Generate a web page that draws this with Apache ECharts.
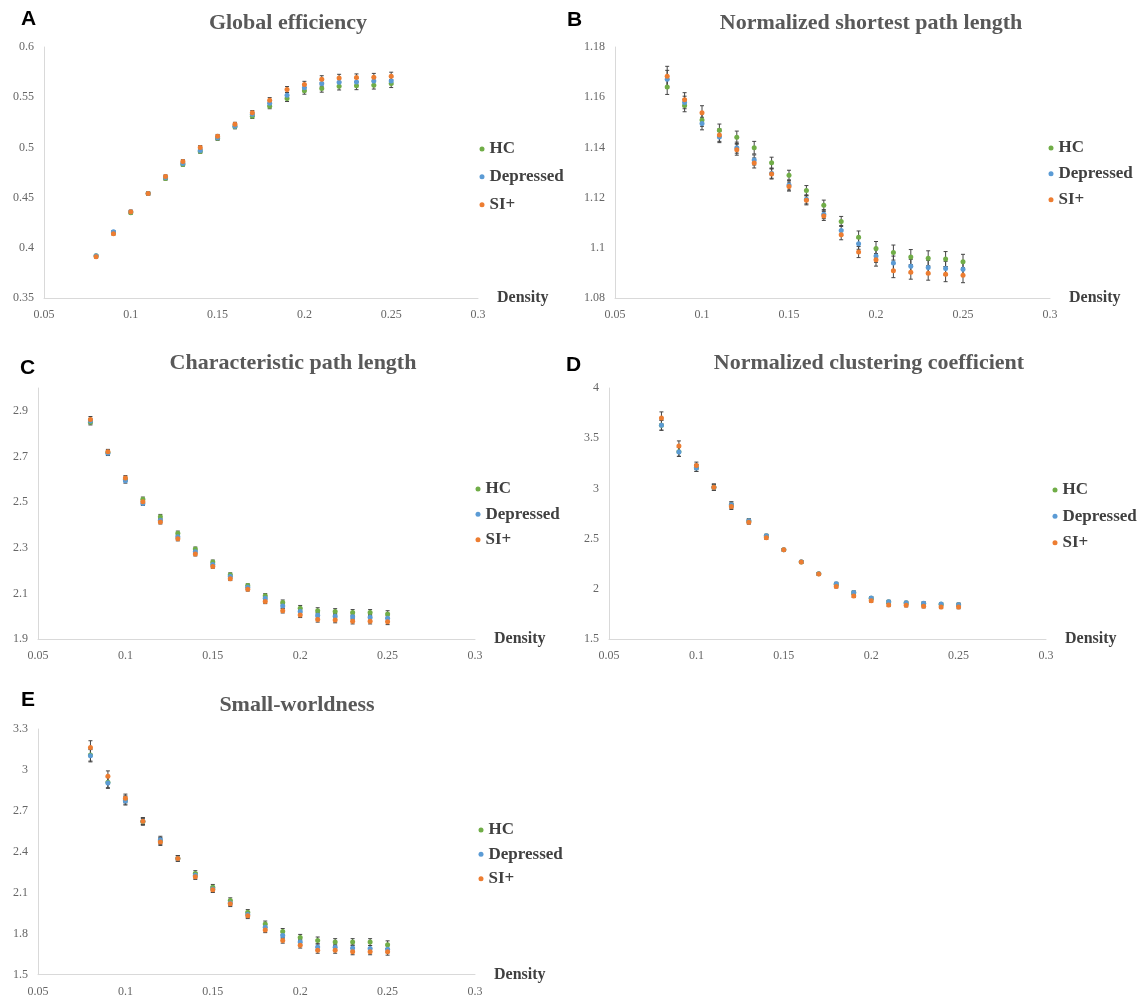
<html>
<head>
    <script src="https://cdn.jsdelivr.net/npm/echarts@6.0.0/dist/echarts.min.js"></script>
    <style>
        body { margin: 0; background: #fff; }
        #chart { width: 1140px; height: 1001px; }
    </style>
</head>
<body>
    <div id="chart"></div>
    <script>
        const density = [0.08, 0.09, 0.10, 0.11, 0.12, 0.13, 0.14, 0.15, 0.16, 0.17, 0.18, 0.19, 0.20, 0.21, 0.22, 0.23, 0.24, 0.25];
        const groups = ['HC', 'Depressed', 'SI+'];
        const colors = ['#70ad47', '#5b9bd5', '#ed7d31'];
        const xTicks = [0.05, 0.3, 0.05];

        // A - global efficiency
        const geHC = [0.392, 0.415, 0.435, 0.454, 0.469, 0.483, 0.496, 0.509, 0.5205, 0.531, 0.541, 0.5487, 0.5563, 0.5586, 0.561, 0.5613, 0.562, 0.5636];
        const geDep = [0.392, 0.416, 0.436, 0.454, 0.470, 0.484, 0.497, 0.5096, 0.521, 0.533, 0.544, 0.552, 0.5593, 0.5636, 0.5649, 0.5652, 0.5662, 0.5662];
        const geSI = [0.391, 0.414, 0.436, 0.454, 0.471, 0.486, 0.500, 0.511, 0.523, 0.5345, 0.547, 0.5576, 0.5626, 0.5679, 0.5692, 0.5695, 0.5699, 0.5709];
        const geErrHC = [0.0012, 0.0013, 0.0014, 0.0015, 0.0016, 0.0017, 0.0018, 0.0019, 0.002, 0.0022, 0.0025, 0.003, 0.0033, 0.0036, 0.0038, 0.0038, 0.0039, 0.004];
        const geErrDep = [0.0011, 0.0012, 0.0013, 0.0014, 0.0015, 0.0016, 0.0017, 0.0018, 0.0019, 0.002, 0.0023, 0.0027, 0.003, 0.0032, 0.0033, 0.0034, 0.0035, 0.0036];
        const geErrSI = [0.0012, 0.0013, 0.0014, 0.0015, 0.0016, 0.0017, 0.0018, 0.0019, 0.002, 0.0022, 0.0026, 0.003, 0.0032, 0.0035, 0.0036, 0.0037, 0.0038, 0.004];

        // B - normalized shortest path length
        const nlHC = [1.1641, 1.1567, 1.1509, 1.1468, 1.144, 1.1399, 1.1339, 1.1289, 1.1228, 1.117, 1.1105, 1.1042, 1.0997, 1.0981, 1.0963, 1.0958, 1.0955, 1.0944];
        const nlDep = [1.1672, 1.1579, 1.1495, 1.1441, 1.1399, 1.135, 1.1297, 1.125, 1.1193, 1.1134, 1.1069, 1.1016, 1.0967, 1.0939, 1.0926, 1.0922, 1.0918, 1.0915];
        const nlSI = [1.1683, 1.159, 1.1538, 1.1449, 1.1391, 1.1338, 1.1294, 1.1244, 1.1189, 1.1127, 1.1052, 1.0983, 1.0952, 1.0909, 1.0903, 1.0899, 1.0895, 1.0891];
        const nlErrHC = [0.003, 0.0025, 0.0025, 0.0025, 0.0025, 0.0025, 0.0022, 0.002, 0.002, 0.002, 0.002, 0.0025, 0.0028, 0.003, 0.003, 0.003, 0.003, 0.003];
        const nlErrDep = [0.0035, 0.0025, 0.0025, 0.0022, 0.0022, 0.002, 0.002, 0.002, 0.0018, 0.0018, 0.002, 0.0022, 0.0025, 0.0028, 0.0028, 0.0028, 0.0028, 0.0028];
        const nlErrSI = [0.004, 0.0028, 0.0028, 0.0025, 0.0022, 0.002, 0.002, 0.0018, 0.0018, 0.0018, 0.002, 0.0022, 0.0025, 0.0028, 0.0028, 0.0028, 0.003, 0.003];

        // C - characteristic path length
        const cpHC = [2.85, 2.717, 2.6, 2.512, 2.436, 2.363, 2.294, 2.237, 2.182, 2.134, 2.09, 2.06, 2.035, 2.024, 2.02, 2.016, 2.016, 2.01];
        const cpDep = [2.855, 2.714, 2.593, 2.494, 2.42, 2.348, 2.282, 2.227, 2.174, 2.127, 2.079, 2.045, 2.02, 2.004, 2.0, 1.997, 1.995, 1.991];
        const cpSI = [2.862, 2.721, 2.606, 2.501, 2.413, 2.339, 2.272, 2.218, 2.164, 2.118, 2.064, 2.024, 2.005, 1.986, 1.983, 1.978, 1.978, 1.976];
        const cpErrHC = [0.012, 0.01, 0.01, 0.01, 0.01, 0.01, 0.009, 0.009, 0.008, 0.008, 0.009, 0.011, 0.012, 0.013, 0.013, 0.013, 0.013, 0.014];
        const cpErrDep = [0.012, 0.01, 0.01, 0.009, 0.009, 0.009, 0.008, 0.008, 0.008, 0.008, 0.009, 0.01, 0.011, 0.012, 0.012, 0.012, 0.012, 0.013];
        const cpErrSI = [0.013, 0.01, 0.01, 0.009, 0.009, 0.009, 0.008, 0.008, 0.008, 0.008, 0.009, 0.01, 0.011, 0.012, 0.012, 0.012, 0.012, 0.013];

        // D - normalized clustering coefficient
        const ncHC = [3.63, 3.365, 3.205, 3.012, 2.835, 2.675, 2.527, 2.389, 2.268, 2.149, 2.045, 1.96, 1.905, 1.868, 1.858, 1.852, 1.845, 1.838];
        const ncDep = [3.629, 3.363, 3.204, 3.012, 2.836, 2.677, 2.528, 2.389, 2.269, 2.15, 2.05, 1.964, 1.908, 1.871, 1.861, 1.855, 1.848, 1.841];
        const ncSI = [3.702, 3.423, 3.227, 3.012, 2.82, 2.664, 2.508, 2.389, 2.266, 2.147, 2.024, 1.928, 1.881, 1.838, 1.835, 1.825, 1.818, 1.818];
        const ncErrHC = [0.05, 0.045, 0.035, 0.03, 0.03, 0.02, 0.015, 0.012, 0.012, 0.012, 0.015, 0.015, 0.015, 0.015, 0.015, 0.015, 0.015, 0.017];
        const ncErrDep = [0.05, 0.045, 0.035, 0.03, 0.03, 0.02, 0.015, 0.012, 0.012, 0.012, 0.015, 0.015, 0.015, 0.015, 0.015, 0.015, 0.015, 0.017];
        const ncErrSI = [0.06, 0.05, 0.035, 0.03, 0.03, 0.02, 0.015, 0.012, 0.012, 0.012, 0.015, 0.015, 0.015, 0.015, 0.015, 0.015, 0.015, 0.017];

        // E - small-worldness
        const swHC = [3.11, 2.91, 2.78, 2.62, 2.48, 2.352, 2.242, 2.141, 2.043, 1.957, 1.871, 1.816, 1.773, 1.751, 1.739, 1.739, 1.739, 1.72];
        const swDep = [3.104, 2.905, 2.773, 2.625, 2.489, 2.352, 2.228, 2.127, 2.026, 1.94, 1.847, 1.787, 1.739, 1.703, 1.701, 1.696, 1.692, 1.687];
        const swSI = [3.164, 2.953, 2.793, 2.625, 2.472, 2.352, 2.218, 2.122, 2.019, 1.931, 1.828, 1.751, 1.715, 1.679, 1.679, 1.668, 1.668, 1.668];
        const swErrHC = [0.045, 0.04, 0.03, 0.025, 0.025, 0.02, 0.02, 0.02, 0.02, 0.02, 0.022, 0.022, 0.022, 0.025, 0.025, 0.025, 0.025, 0.028];
        const swErrDep = [0.045, 0.04, 0.03, 0.025, 0.025, 0.02, 0.02, 0.02, 0.02, 0.02, 0.02, 0.02, 0.02, 0.022, 0.022, 0.022, 0.022, 0.025];
        const swErrSI = [0.05, 0.04, 0.03, 0.025, 0.025, 0.02, 0.02, 0.02, 0.02, 0.02, 0.02, 0.02, 0.02, 0.022, 0.022, 0.022, 0.022, 0.025];

        // legend: [left, top, itemGap]
        const panels = [
            { letter: 'A', title: 'Global efficiency', y: [0.35, 0.6, 0.05], means: [geHC, geDep, geSI], errs: [geErrHC, geErrDep, geErrSI],
              grid: { left: 44, top: 47, width: 434, height: 251 }, titlePos: [288, 23], letterPos: [21, 19], legend: [479.5, 135.5, 1] },
            { letter: 'B', title: 'Normalized shortest path length', y: [1.08, 1.18, 0.02], means: [nlHC, nlDep, nlSI], errs: [nlErrHC, nlErrDep, nlErrSI],
              grid: { left: 615, top: 47, width: 435, height: 251 }, titlePos: [871, 23], letterPos: [567, 20], legend: [1048.5, 134.5, -1] },
            { letter: 'C', title: 'Characteristic path length', y: [1.9, 3.0, 0.2], means: [cpHC, cpDep, cpSI], errs: [cpErrHC, cpErrDep, cpErrSI],
              grid: { left: 38, top: 388, width: 437, height: 251 }, titlePos: [293, 363], letterPos: [20, 368], legend: [475.5, 475.5, -1.5], hideMax: true },
            { letter: 'D', title: 'Normalized clustering coefficient', y: [1.5, 4, 0.5], means: [ncHC, ncDep, ncSI], errs: [ncErrHC, ncErrDep, ncErrSI],
              grid: { left: 609, top: 388, width: 437, height: 251 }, titlePos: [869, 363], letterPos: [566, 365], legend: [1052.5, 476.5, -0.5] },
            { letter: 'E', title: 'Small-worldness', y: [1.5, 3.3, 0.3], means: [swHC, swDep, swSI], errs: [swErrHC, swErrDep, swErrSI],
              grid: { left: 38, top: 729, width: 437, height: 251 }, titlePos: [297, 705], letterPos: [21, 700], legend: [478.5, 816.5, -2.5] }
        ];

        const serif = '"Liberation Serif", "Times New Roman", serif';
        const axisLine = { show: true, lineStyle: { color: '#d9d9d9', width: 1 } };

        function renderErr(params, api) {
            const x = api.value(0), m = api.value(1), e = api.value(2);
            const top = api.coord([x, m + e]);
            const bot = api.coord([x, m - e]);
            const cap = 2;
            const st = { stroke: '#454545', lineWidth: 1 };
            return {
                type: 'group',
                children: [
                    { type: 'line', shape: { x1: top[0], y1: top[1], x2: bot[0], y2: bot[1] }, style: st },
                    { type: 'line', shape: { x1: top[0] - cap, y1: top[1], x2: top[0] + cap, y2: top[1] }, style: st },
                    { type: 'line', shape: { x1: bot[0] - cap, y1: bot[1], x2: bot[0] + cap, y2: bot[1] }, style: st }
                ]
            };
        }

        const grid = [], xAxis = [], yAxis = [], series = [], legend = [], graphic = [];

        panels.forEach((p, i) => {
            grid.push(p.grid);
            xAxis.push({
                type: 'value', gridIndex: i, min: xTicks[0], max: xTicks[1], interval: xTicks[2],
                axisLine: axisLine, axisTick: { show: false }, splitLine: { show: false },
                axisLabel: { color: '#666', fontFamily: serif, fontSize: 12, margin: 8 },
                name: 'Density', nameLocation: 'end', nameGap: 19,
                nameTextStyle: { color: '#404040', fontFamily: serif, fontSize: 16, fontWeight: 'bold', verticalAlign: 'middle' }
            });
            yAxis.push({
                type: 'value', gridIndex: i, min: p.y[0], max: p.y[1], interval: p.y[2],
                axisLine: axisLine, axisTick: { show: false }, splitLine: { show: false },
                axisLabel: { color: '#666', fontFamily: serif, fontSize: 12, margin: 10, showMaxLabel: !p.hideMax }
            });
            groups.forEach((g, k) => {
                series.push({
                    type: 'custom', name: g + ' error', xAxisIndex: i, yAxisIndex: i, z: 2,
                    renderItem: renderErr, encode: { x: 0, y: 1 }, silent: true,
                    data: density.map((d, j) => [d, p.means[k][j], p.errs[k][j]])
                });
            });
            groups.forEach((g, k) => {
                series.push({
                    type: 'scatter', name: g, xAxisIndex: i, yAxisIndex: i, z: 3 + k,
                    symbol: 'circle', symbolSize: 5, itemStyle: { color: colors[k], opacity: 1 },
                    data: density.map((d, j) => [d, p.means[k][j]])
                });
            });
            legend.push({
                data: groups, orient: 'vertical', left: p.legend[0], top: p.legend[1], itemGap: p.legend[2],
                padding: 0, icon: 'circle', itemWidth: 5, itemHeight: 5, selectedMode: false,
                textStyle: { color: '#404040', fontFamily: serif, fontSize: 17, fontWeight: 'bold' }
            });
            graphic.push({
                type: 'text', x: p.titlePos[0], y: p.titlePos[1],
                style: { text: p.title, fill: '#595959', font: 'bold 22px ' + serif, textAlign: 'center', textVerticalAlign: 'middle' }
            });
            graphic.push({
                type: 'text', x: p.letterPos[0], y: p.letterPos[1],
                style: { text: p.letter, fill: '#000', font: 'bold 21px "Liberation Sans", Arial, sans-serif', textAlign: 'left', textVerticalAlign: 'middle' }
            });
        });

        const chart = echarts.init(document.getElementById('chart'));
        chart.setOption({
            animation: false,
            backgroundColor: '#fff',
            grid: grid, xAxis: xAxis, yAxis: yAxis,
            legend: legend, series: series, graphic: graphic
        });
    </script>
</body>
</html>
